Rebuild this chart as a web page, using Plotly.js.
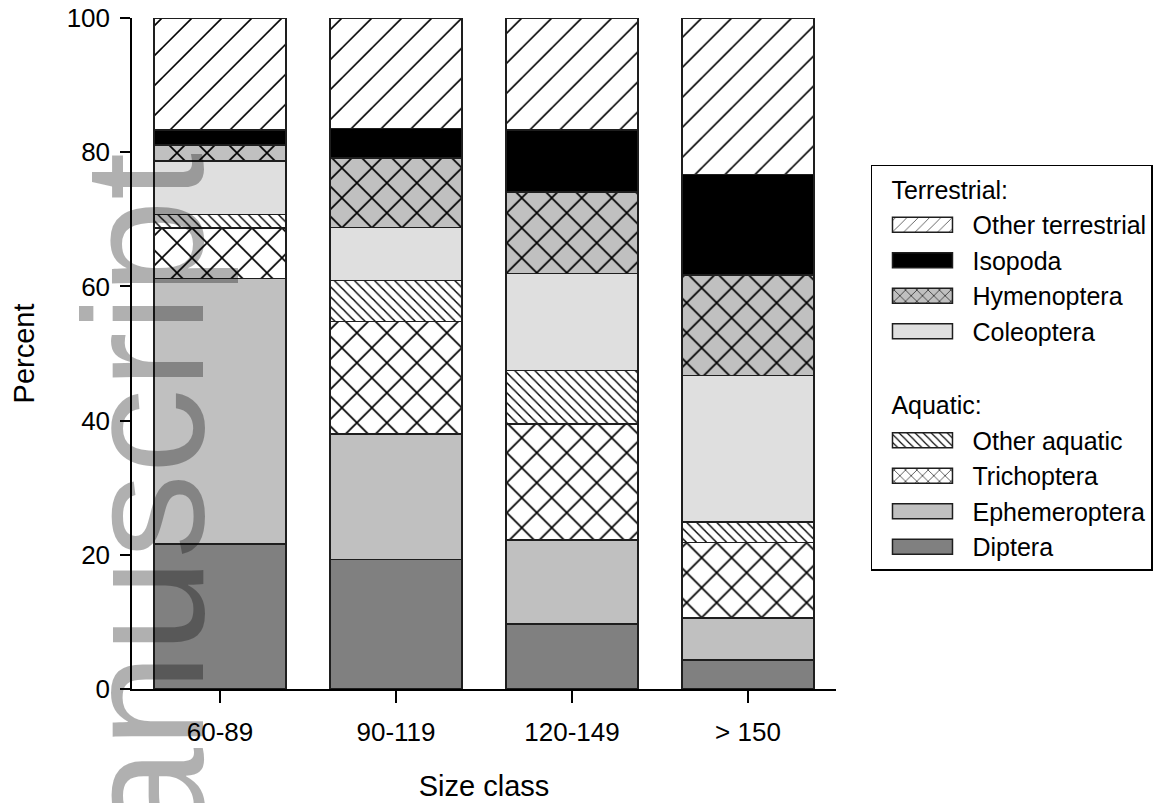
<!DOCTYPE html>
<html><head><meta charset="utf-8">
<script src="https://cdn.plot.ly/plotly-3.0.1.min.js"></script>
<style>body{margin:0;background:#fff}#chart{width:1167px;height:803px}</style>
</head><body><div id="chart"></div>
<script>
// Data (percent of diet by size class), bottom to top of each stacked bar
const sizeClasses = ['60-89', '90-119', '120-149', '> 150'];
const diptera          = [21.6, 19.3,  9.7,  4.3];
const ephemeroptera    = [39.6, 18.7, 12.5,  6.3];
const trichoptera      = [ 7.5, 16.8, 17.3, 11.2];
const otherAquatic     = [ 2.0,  6.1,  8.0,  3.1];
const coleoptera       = [ 8.0,  7.9, 14.4, 21.8];
const hymenoptera      = [ 2.4, 10.3, 12.2, 15.0];
const isopoda          = [ 2.2,  4.4,  9.2, 15.0];
const otherTerrestrial = [16.7, 16.5, 16.7, 23.3];
const yTicks = [0, 20, 40, 60, 80, 100];

const FONT = 'Liberation Sans, Arial, Helvetica, sans-serif';
const EDGE = {color: '#1e1e1e', width: 1.5};
const NB = '\u00a0\u00a0';

function bar(name, values, group, groupTitle, rank, fill, pattern) {
  const marker = {color: fill, line: EDGE};
  if (pattern) marker.pattern = Object.assign({fgcolor: '#000', bgcolor: fill, fillmode: 'replace'}, pattern);
  return {
    type: 'bar', name: name, x: sizeClasses, y: values,
    legendgroup: group, legendrank: rank,
    legendgrouptitle: {text: NB + groupTitle, font: {size: 25, family: FONT, color: '#000'}},
    marker: marker, hoverinfo: 'x+y+name'
  };
}

const data = [
  bar('Diptera', diptera, 'aq', 'Aquatic:', 8, '#808080'),
  bar('Ephemeroptera', ephemeroptera, 'aq', 'Aquatic:', 7, '#c0c0c0'),
  bar('Trichoptera', trichoptera, 'aq', 'Aquatic:', 6, '#ffffff', {shape: 'x', size: 21.2, solidity: 0.15}),
  bar('Other aquatic', otherAquatic, 'aq', 'Aquatic:', 5, '#ffffff', {shape: '\\', size: 7.1, solidity: 0.2}),
  bar('Coleoptera', coleoptera, 'terr', 'Terrestrial:', 4, '#dfdfdf'),
  bar('Hymenoptera', hymenoptera, 'terr', 'Terrestrial:', 3, '#c0c0c0', {shape: 'x', size: 21.2, solidity: 0.15}),
  bar('Isopoda', isopoda, 'terr', 'Terrestrial:', 2, '#000000'),
  bar('Other terrestrial', otherTerrestrial, 'terr', 'Terrestrial:', 1, '#ffffff', {shape: '/', size: 21.2, solidity: 0.075})
];

const layout = {
  width: 1167, height: 803,
  margin: {l: 132, r: 331, t: 18, b: 114, autoexpand: false},
  paper_bgcolor: '#fff', plot_bgcolor: '#fff',
  font: {family: FONT, size: 25, color: '#000'},
  barmode: 'stack', bargap: 0.25,
  showlegend: true,
  xaxis: {
    range: [-0.5, 3.5], showgrid: false, zeroline: false,
    showline: true, linecolor: '#000', linewidth: 1.5,
    ticks: 'outside', ticklen: 12, tickwidth: 1.5, tickcolor: '#000',
    tickfont: {size: 26}, ticklabelstandoff: 7,
    title: {text: 'Size class', font: {size: 29}, standoff: 30}
  },
  yaxis: {
    range: [0, 100], tickvals: yTicks, showgrid: false, zeroline: false,
    showline: true, linecolor: '#000', linewidth: 1.5,
    ticks: 'outside', ticklen: 10, tickwidth: 1.5, tickcolor: '#000',
    tickfont: {size: 26}, ticklabelstandoff: 5,
    title: {text: 'Percent', font: {size: 29}, standoff: 24}
  },
  legend: {
    x: 1.0497, xanchor: 'left', y: 0.781, yanchor: 'top',
    bgcolor: '#fff', bordercolor: '#000', borderwidth: 1.5,
    font: {size: 25, family: FONT, color: '#000'},
    traceorder: 'grouped', tracegroupgap: 38, itemwidth: 90,
    itemclick: false, itemdoubleclick: false
  },
  annotations: [{
    text: 'Author Manuscript', textangle: -90, showarrow: false,
    xref: 'paper', yref: 'paper', x: 0.017, xanchor: 'center', y: 0.803, yanchor: 'top',
    font: {family: FONT, size: 170, color: 'rgba(0,0,0,0.31)'}
  }]
};

function widenLegendSwatches() {
  document.querySelectorAll('#chart .legend .legendpoints path').forEach(function (p) {
    p.setAttribute('d', 'M30,7.5H-30V-7.5H30Z');
  });
}

Plotly.newPlot('chart', data, layout, {displayModeBar: false}).then(function (gd) {
  gd.on('plotly_afterplot', widenLegendSwatches);
  widenLegendSwatches();
  setTimeout(widenLegendSwatches, 0);
  setTimeout(widenLegendSwatches, 150);
});
widenLegendSwatches();
</script>
</body></html>
